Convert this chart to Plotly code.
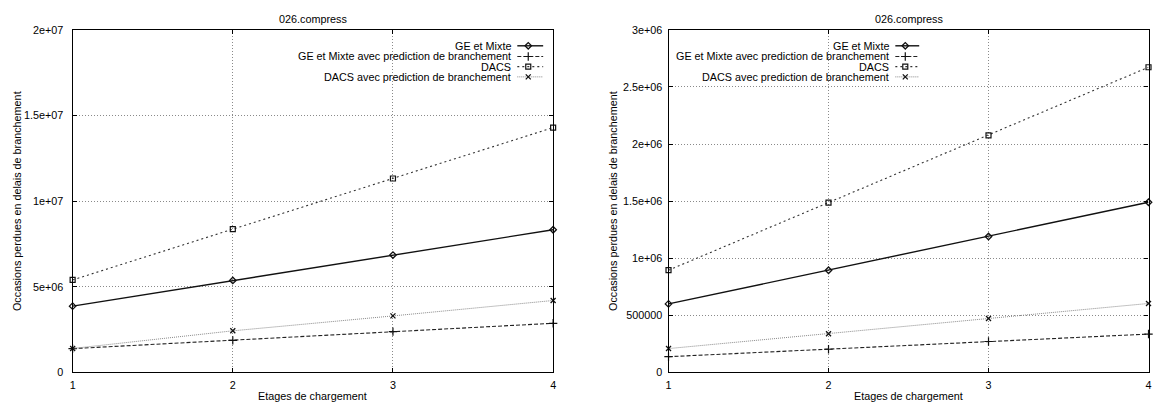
import plotly.graph_objects as go

# ---------------- data ----------------
etages = [1, 2, 3, 4]
x_ticks = [1, 2, 3, 4]
x_ticklabels = ["1", "2", "3", "4"]

series_names = [
    "GE et Mixte",
    "GE et Mixte avec prediction de branchement",
    "DACS",
    "DACS avec prediction de branchement",
]

# left panel
ge_mixte_L = [3.87e6, 5.37e6, 6.85e6, 8.33e6]
ge_pred_L = [1.39e6, 1.87e6, 2.38e6, 2.87e6]
dacs_L = [5.40e6, 8.36e6, 11.32e6, 14.29e6]
dacs_pred_L = [1.40e6, 2.43e6, 3.30e6, 4.20e6]
y_ticks_L = [0, 5e6, 1e7, 1.5e7, 2e7]
y_ticklabels_L = ["0", "5e+06", "1e+07", "1.5e+07", "2e+07"]

# right panel
ge_mixte_R = [0.600e6, 0.895e6, 1.190e6, 1.490e6]
ge_pred_R = [0.138e6, 0.203e6, 0.271e6, 0.336e6]
dacs_R = [0.895e6, 1.486e6, 2.076e6, 2.672e6]
dacs_pred_R = [0.209e6, 0.339e6, 0.472e6, 0.604e6]
y_ticks_R = [0, 5e5, 1e6, 1.5e6, 2e6, 2.5e6, 3e6]
y_ticklabels_R = ["0", "500000", "1e+06", "1.5e+06", "2e+06", "2.5e+06", "3e+06"]

title_text = "026.compress"
xlabel = "Etages de chargement"
ylabel = "Occasions perdues en delais de branchement"

# ---------------- styles ----------------
W, H = 1153, 410
FONT = "Liberation Sans, Arial, Helvetica, sans-serif"
styles = [
    dict(line=dict(color="#111111", width=1.4, dash="solid"),
         marker=dict(symbol="diamond-open", size=5, color="#111111", line=dict(width=1.3))),
    dict(line=dict(color="#222222", width=1.1, dash="4px,2px"),
         marker=dict(symbol="cross-thin-open", size=6, color="#111111", line=dict(width=1.2))),
    dict(line=dict(color="#333333", width=1.1, dash="2px,3px"),
         marker=dict(symbol="square-open", size=5, color="#111111", line=dict(width=1.2))),
    dict(line=dict(color="#888888", width=1.0, dash="1px,1px"),
         marker=dict(symbol="x-thin-open", size=5, color="#111111", line=dict(width=1.3))),
]

fig = go.Figure()

left_series = [ge_mixte_L, ge_pred_L, dacs_L, dacs_pred_L]
right_series = [ge_mixte_R, ge_pred_R, dacs_R, dacs_pred_R]

for name, ys, st in zip(series_names, left_series, styles):
    fig.add_trace(go.Scatter(x=etages, y=ys, mode="lines+markers", name=name,
                             xaxis="x", yaxis="y", showlegend=False,
                             cliponaxis=False, **st))
for name, ys, st in zip(series_names, right_series, styles):
    fig.add_trace(go.Scatter(x=etages, y=ys, mode="lines+markers", name=name,
                             xaxis="x2", yaxis="y2", showlegend=False,
                             cliponaxis=False, **st))

# pixel-space overlay axis for the gnuplot-style legend keys
legend_rows_px = [41, 52, 62.5, 73]
legend_panels = [(513, 517, 543), (893, 897, 921)]  # text right edge, key start, key end
for text_right, k0, k1 in legend_panels:
    for name, ry, st in zip(series_names, legend_rows_px, styles):
        fig.add_trace(go.Scatter(x=[k0, k1], y=[ry, ry], mode="lines",
                                 line=st["line"], xaxis="x3", yaxis="y3",
                                 showlegend=False, hoverinfo="skip"))
        fig.add_trace(go.Scatter(x=[(k0 + k1) / 2 - 2], y=[ry], mode="markers",
                                 marker=st["marker"], xaxis="x3", yaxis="y3",
                                 showlegend=False, hoverinfo="skip"))
        fig.add_annotation(x=text_right / W, y=1 - ry / H, xref="paper", yref="paper",
                           text=name, showarrow=False, xanchor="right", yanchor="middle",
                           font=dict(family=FONT, size=10.8, color="#000"))

# ---------------- layout ----------------
yd = [1 - 377.5 / H, 1 - 24.5 / H]
xd1 = [70 / W, 553 / W]
xd2 = [669 / W, 1151.5 / W]

axis_common = dict(
    showline=True, linecolor="#000", linewidth=1.2, mirror="ticks",
    ticks="inside", ticklen=4, tickcolor="#000", tickwidth=1,
    showgrid=True, gridcolor="#8a8a8a", gridwidth=1, griddash="1px,2px",
    zeroline=False, tickfont=dict(family=FONT, size=10.8, color="#000"),
)

fig.update_layout(
    width=W, height=H,
    margin=dict(l=0, r=0, t=0, b=0),
    paper_bgcolor="white", plot_bgcolor="rgba(0,0,0,0)",
    showlegend=False,
    xaxis=dict(domain=xd1, anchor="y", range=[1, 4], tickvals=x_ticks,
               ticktext=x_ticklabels, ticklabelstandoff=2, **axis_common),
    yaxis=dict(domain=yd, anchor="x", range=[0, 2e7], tickvals=y_ticks_L,
               ticktext=y_ticklabels_L, ticklabelstandoff=6, **axis_common),
    xaxis2=dict(domain=xd2, anchor="y2", range=[1, 4], tickvals=x_ticks,
                ticktext=x_ticklabels, ticklabelstandoff=2, **axis_common),
    yaxis2=dict(domain=yd, anchor="x2", range=[0, 3e6], tickvals=y_ticks_R,
                ticktext=y_ticklabels_R, ticklabelstandoff=3, **axis_common),
    xaxis3=dict(domain=[0, 1], anchor="y3", range=[0, W], visible=False, fixedrange=True),
    yaxis3=dict(domain=[0, 1], anchor="x3", range=[H, 0], visible=False, fixedrange=True),
)

for cx, ylab_x in [((70 + 553) / 2, 14), ((669 + 1152) / 2, 613)]:
    fig.add_annotation(x=cx / W, y=1 - 13 / H, xref="paper", yref="paper", text=title_text,
                       showarrow=False, xanchor="center", yanchor="middle",
                       font=dict(family=FONT, size=10.8, color="#000"))
    fig.add_annotation(x=cx / W, y=1 - 402 / H, xref="paper", yref="paper", text=xlabel,
                       showarrow=False, xanchor="center", yanchor="middle",
                       font=dict(family=FONT, size=10.8, color="#000"))
    fig.add_annotation(x=ylab_x / W, y=1 - 201 / H, xref="paper", yref="paper", text=ylabel,
                       showarrow=False, xanchor="center", yanchor="middle", textangle=-90,
                       font=dict(family=FONT, size=10.8, color="#000"))

fig.write_html("out.html")
